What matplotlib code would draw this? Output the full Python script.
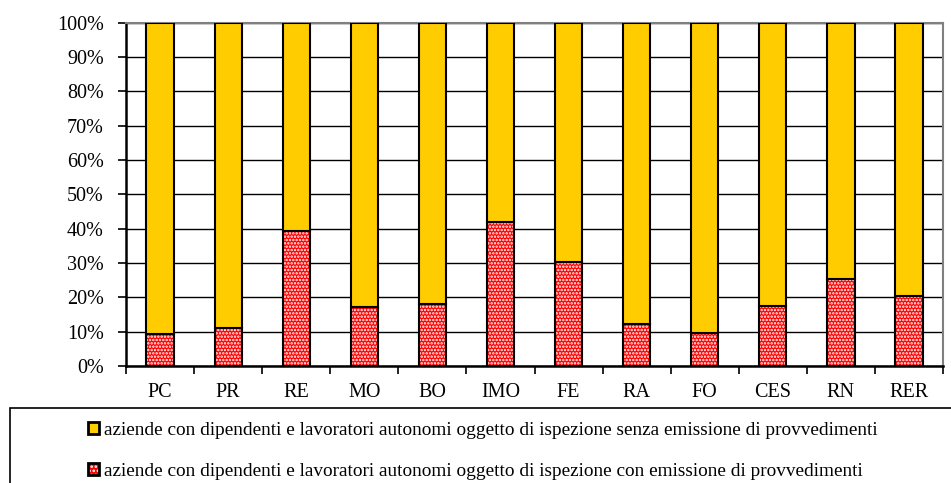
import numpy as np
import matplotlib
matplotlib.use('Agg')
import matplotlib.pyplot as plt
from matplotlib.patches import Patch, Rectangle
from matplotlib.legend_handler import HandlerTuple
from matplotlib.ticker import FixedLocator, PercentFormatter

# Dati (quota % di aziende ispezionate con provvedimenti)
province = ['PC', 'PR', 'RE', 'MO', 'BO', 'IMO', 'FE', 'RA', 'FO', 'CES', 'RN', 'RER']
con_provvedimenti = [9.3, 11.0, 39.2, 17.2, 18.0, 41.9, 30.2, 12.2, 9.6, 17.4, 25.3, 20.3]
senza_provvedimenti = [100 - v for v in con_provvedimenti]

lab_senza = 'aziende con dipendenti e lavoratori autonomi oggetto di ispezione senza emissione di provvedimenti'
lab_con = 'aziende con dipendenti e lavoratori autonomi oggetto di ispezione con emissione di provvedimenti'

giallo = '#FFCC00'
rosso = '#FF0000'

plt.rcParams['font.family'] = ['Liberation Serif', 'DejaVu Serif']
plt.rcParams['hatch.linewidth'] = 1.2

fig = plt.figure(figsize=(9.51, 4.83), dpi=100)
ax = fig.add_axes([0.1325, 0.2422, 0.8591, 0.7112])

x = np.arange(len(province))
w = 0.40

# parte rossa con puntini bianchi
ax.bar(x, con_provvedimenti, w, color=rosso, edgecolor='white', hatch='.....', linewidth=0, zorder=3)
ax.bar(x, con_provvedimenti, w, facecolor='none', edgecolor='black', linewidth=1.5, zorder=4)
# parte gialla
ax.bar(x, senza_provvedimenti, w, bottom=con_provvedimenti, color=giallo,
       edgecolor='black', linewidth=1.5, zorder=4)

ax.set_xlim(-0.5, len(province) - 0.5)
ax.set_ylim(0, 100)
ax.set_yticks(np.arange(0, 101, 10))
ax.yaxis.set_major_formatter(PercentFormatter(decimals=0))
ax.yaxis.grid(True, color='black', linewidth=1.0, zorder=0)
ax.set_axisbelow(True)

ax.set_xticks(x)
ax.set_xticklabels(province)
ax.xaxis.set_minor_locator(FixedLocator(np.arange(-0.5, len(province), 1)))
ax.tick_params(axis='x', which='major', length=0, pad=12.5, labelsize=14.5)
ax.tick_params(axis='x', which='minor', length=6, width=1.2, direction='out')
ax.tick_params(axis='y', length=6, width=1.2, direction='out', labelsize=14.5, pad=10)

ax.spines['left'].set_linewidth(1.8)
ax.spines['bottom'].set_linewidth(1.8)
ax.spines['top'].set_color('#808080')
ax.spines['right'].set_color('#808080')
ax.spines['top'].set_linewidth(1.5)
ax.spines['right'].set_linewidth(1.5)

# riquadro legenda
fig.patches.append(Rectangle((10 / 951, -0.1), 1.0, 1 - 408 / 483 + 0.1,
                             transform=fig.transFigure, fill=False,
                             edgecolor='black', linewidth=1.2))

h_senza = Patch(facecolor=giallo, edgecolor='black', linewidth=2)
h_con = (Patch(facecolor=rosso, edgecolor='white', hatch='....', linewidth=0),
         Patch(facecolor='none', edgecolor='black', linewidth=2))
fig.legend([h_senza, h_con], [lab_senza, lab_con],
           handler_map={tuple: HandlerTuple(ndivide=1, pad=0)},
           loc='upper left', bbox_to_anchor=(88 / 951, 1 - 422 / 483),
           frameon=False, fontsize=13.9, handlelength=0.55, handleheight=0.55,
           handletextpad=0.3, labelspacing=1.25, borderpad=0, borderaxespad=0)

fig.savefig('out.png', dpi=100)
